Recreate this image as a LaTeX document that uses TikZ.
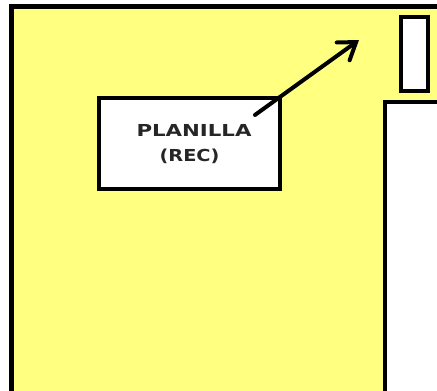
\documentclass[tikz,border=0pt]{standalone}
\usepackage{fontspec}
\setmainfont{DejaVu Sans}
\usepackage{xcolor}
\definecolor{mauvang}{HTML}{FFFF80}
\usetikzlibrary{arrows.meta,positioning,calc}

\begin{document}
\begin{tikzpicture}[x=1pt,y=-1pt]
	\tikzset{
		khung/.style={draw=black,line width=4.5pt},
		hop/.style={draw=black,fill=white,line width=4pt},
		chu/.style={font=\bfseries\fontsize{16.5}{25}\selectfont,text=black!85,align=center}
	}
	\useasboundingbox (0,0) rectangle (437,391);
	\begin{scope}
		\clip (0,0) rectangle (437,391);
		%% nen vang
		\fill[mauvang] (11.5,6.5) rectangle (445,400);
		\draw[khung] (11.5,400) -- (11.5,6.5) -- (445,6.5);
		%% o trang lon ben phai
		\fill[white] (385,102) rectangle (445,400);
		\draw[khung,line width=4pt] (385,400) -- (385,102) -- (445,102);
	\end{scope}
	%% o nho
	\node[hop,minimum width=27pt,minimum height=74pt,inner sep=0pt] (onho) at (414,53.5) {};
	%% planilla
	\node[hop,chu,minimum width=181pt,minimum height=90.5pt,inner sep=0pt] (planilla) at (189.5,143.7)
		{\hspace{9pt}\scalebox{1.29}[1]{PLANILLA}\\\scalebox{1.17}[1]{(REC)}};
	\coordinate (duoi) at ($(planilla.north east)+(-27,18.5)$);
	\coordinate (mui) at (359,40);
	\draw[line width=4pt,line cap=round,-{Straight Barb[length=16pt,width=22pt,line cap=round]}] (duoi) -- (mui);
\end{tikzpicture}
\end{document}
